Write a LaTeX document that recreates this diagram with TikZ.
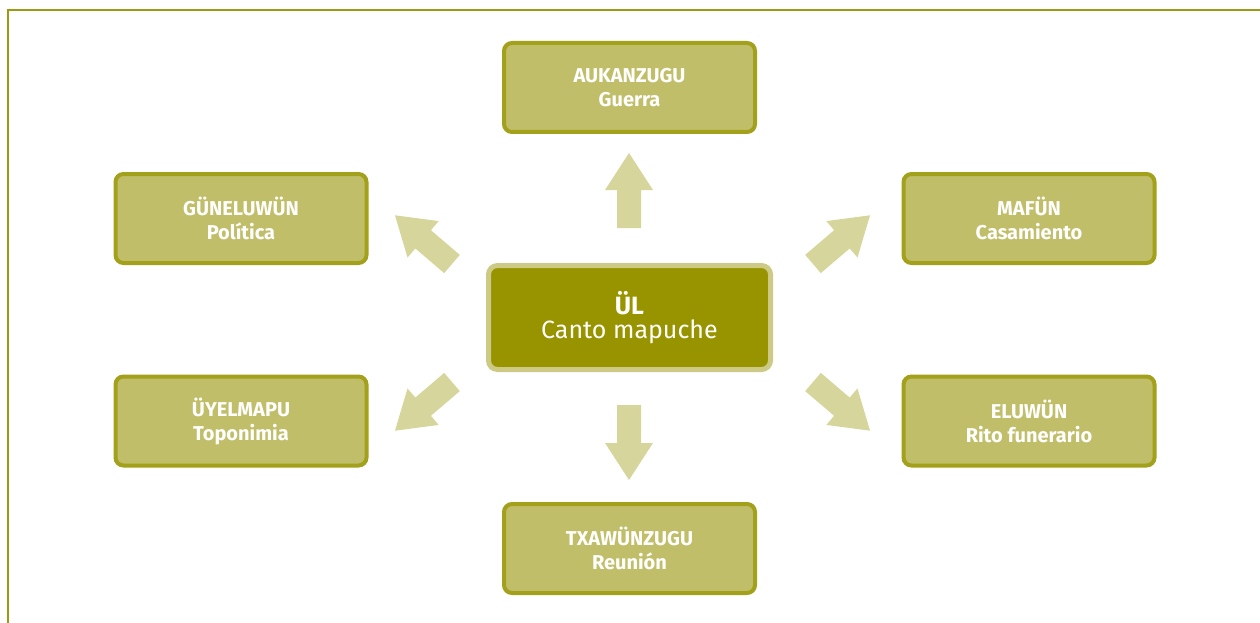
\documentclass[tikz,border=0pt]{standalone}
\usepackage{fontspec}
\setmainfont{Fira Sans}
\definecolor{frame}{HTML}{9C9A12}
\definecolor{boxfill}{HTML}{C1BE69}
\definecolor{boxline}{HTML}{A3A01B}
\definecolor{cfill}{HTML}{979400}
\definecolor{cline}{HTML}{CCCA85}
\definecolor{arr}{HTML}{D6D69C}
\tikzset{
  topic/.style={draw=boxline, fill=boxfill, line width=4pt, rounded corners=8pt,
    minimum width=251pt, minimum height=89pt, inner sep=0pt, align=center,
    text=white, font=\fontsize{20}{24}\selectfont\bfseries},
  centre/.style={draw=cline, fill=cfill, line width=5pt, rounded corners=9pt,
    minimum width=282pt, minimum height=104pt, inner sep=0pt, align=center,
    text=white, font=\fontsize{25}{24}\selectfont},
  bigarrow/.style={fill=arr, draw=none}
}
\newcommand{\arrowshape}{(0,-12) -- (38,-12) -- (38,-24) -- (75,0) -- (38,24) -- (38,12) -- (0,12) -- cycle}
\begin{document}
\begin{tikzpicture}[x=1pt,y=-1pt]
\useasboundingbox (0,0) rectangle (1260,623);
\draw[frame, line width=2pt] (8,623) -- (8,10) -- (1260,10);
\node[centre] (ul) at (629.5,317.5) {{\bfseries ÜL}\\Canto mapuche};
\node[topic] (auk) at (629.5,87.5) {AUKANZUGU\\Guerra};
\node[topic] (txa) at (629.5,548.5) {TXAWÜNZUGU\\Reunión};
\node[topic] (gun) at (241,218.5) {GÜNELUWÜN\\Política};
\node[topic] (uye) at (241,421) {ÜYELMAPU\\Toponimia};
\node[topic] (maf) at (1029,218.5) {MAFÜN\\Casamiento};
\node[topic] (elu) at (1029,421) {ELUWÜN\\Rito funerario};
% decorative arrows
\begin{scope}[shift={(629,228)}, rotate=90]
  \fill[bigarrow] \arrowshape;
\end{scope}
\begin{scope}[shift={(629,405)}, rotate=-90]
  \fill[bigarrow] \arrowshape;
\end{scope}
\begin{scope}[shift={(452,264)}, rotate=139.5]
  \fill[bigarrow] \arrowshape;
\end{scope}
\begin{scope}[shift={(813,264)}, rotate=40.5]
  \fill[bigarrow] \arrowshape;
\end{scope}
\begin{scope}[shift={(452,382)}, rotate=-139.5]
  \fill[bigarrow] \arrowshape;
\end{scope}
\begin{scope}[shift={(813,382)}, rotate=-40.5]
  \fill[bigarrow] \arrowshape;
\end{scope}
\end{tikzpicture}
\end{document}
